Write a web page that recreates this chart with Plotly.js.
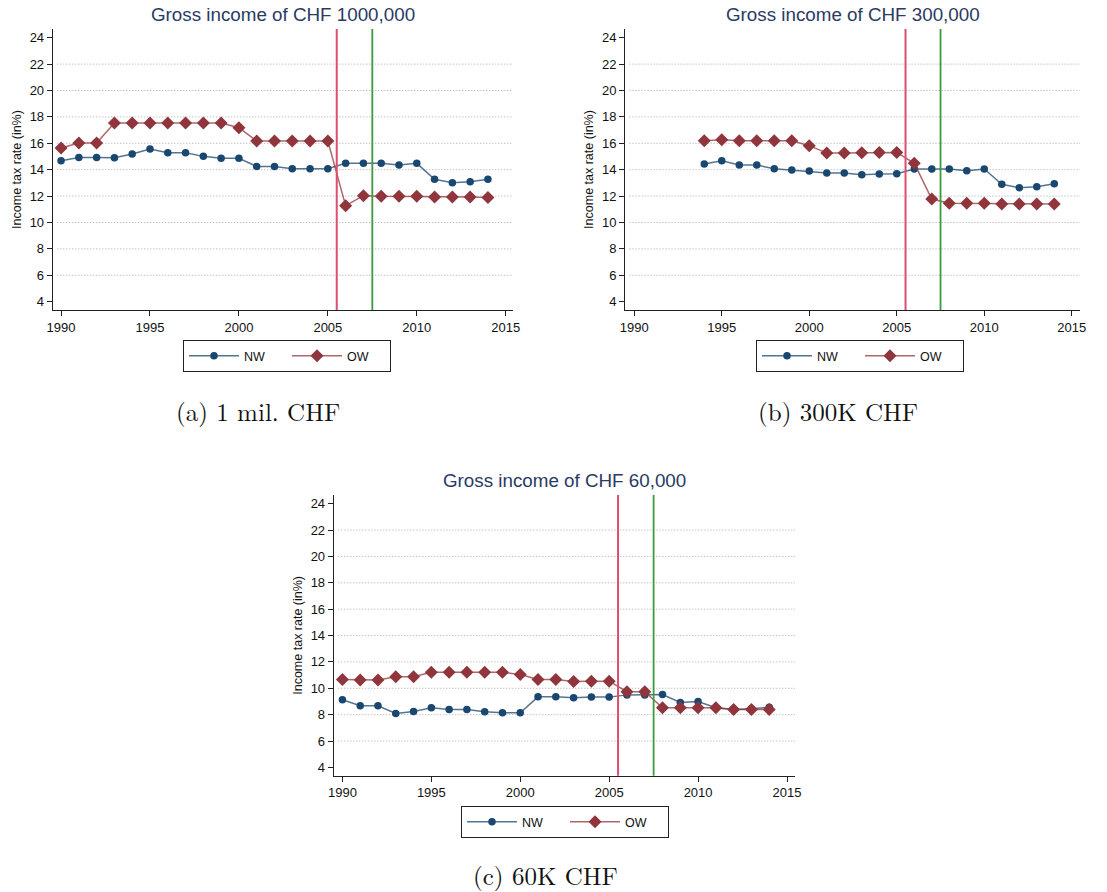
<!DOCTYPE html>
<html>
<head>
<meta charset="utf-8">
<script src="https://cdn.plot.ly/plotly-3.0.1.min.js"></script>
<style>html,body{margin:0;padding:0;background:#fff;}#chart{width:1107px;height:892px;}</style>
</head>
<body>
<div id="chart"></div>
<script>
// ---- Data ----
const yearsA = [1990,1991,1992,1993,1994,1995,1996,1997,1998,1999,2000,2001,2002,2003,2004,2005,2006,2007,2008,2009,2010,2011,2012,2013,2014];
const nwA = [14.68,14.93,14.93,14.91,15.19,15.57,15.29,15.29,15.01,14.86,14.86,14.25,14.25,14.08,14.08,14.08,14.48,14.48,14.48,14.35,14.48,13.27,13.02,13.09,13.27];
const owA = [15.64,16.02,16.02,17.54,17.54,17.54,17.54,17.54,17.54,17.54,17.18,16.17,16.17,16.17,16.17,16.17,11.27,12.03,11.98,11.98,11.98,11.93,11.93,11.93,11.90];

const yearsB = [1994,1995,1996,1997,1998,1999,2000,2001,2002,2003,2004,2005,2006,2007,2008,2009,2010,2011,2012,2013,2014];
const nwB = [14.43,14.68,14.35,14.35,14.08,13.97,13.90,13.75,13.75,13.62,13.67,13.70,14.05,14.05,14.05,13.92,14.05,12.89,12.64,12.71,12.94];
const owB = [16.20,16.27,16.20,16.20,16.20,16.20,15.82,15.26,15.26,15.29,15.31,15.31,14.48,11.78,11.45,11.45,11.45,11.40,11.40,11.40,11.40];

const yearsC = [1990,1991,1992,1993,1994,1995,1996,1997,1998,1999,2000,2001,2002,2003,2004,2005,2006,2007,2008,2009,2010,2011,2012,2013,2014];
const nwC = [9.13,8.67,8.67,8.09,8.24,8.52,8.39,8.39,8.22,8.14,8.14,9.35,9.35,9.28,9.33,9.33,9.50,9.50,9.53,8.93,9.00,8.52,8.39,8.44,8.57];
const owC = [10.67,10.62,10.62,10.87,10.87,11.22,11.22,11.22,11.22,11.22,11.05,10.67,10.67,10.52,10.54,10.54,9.74,9.74,8.52,8.52,8.52,8.52,8.39,8.39,8.39];

const seriesNames = ["NW", "OW"];
const panelTitles = ["Gross income of CHF 1000,000", "Gross income of CHF 300,000", "Gross income of CHF 60,000"];
const captions = ["(a) 1 mil. CHF", "(b) 300K CHF", "(c) 60K CHF"];
const yAxisTitle = "Income tax rate (in%)";
const xTicks = [1990,1995,2000,2005,2010,2015];
const yTicks = [4,6,8,10,12,14,16,18,20,22,24];
const gridValues = [6,8,10,12,14,16,18,20,22];
const vlineYears = [2005.5, 2007.5];

// ---- Styles ----
const NAVY = "#1a476f", MAROON = "#90353b";
const FONT = "Liberation Sans, Arial, Helvetica, sans-serif";
const TITLE_COLOR = "#2a3a63";

const panels = [
  {years: yearsA, nw: nwA, ow: owA, xa: "x", ya: "y", leg: "legend", dom: [52.7, 513, 29, 310], xr:[1989.53, 2015.41]},
  {years: yearsB, nw: nwB, ow: owB, xa: "x2", ya: "y2", leg: "legend2", dom: [625, 1080, 29, 310], xr:[1989.47, 2015.47]},
  {years: yearsC, nw: nwC, ow: owC, xa: "x3", ya: "y3", leg: "legend3", dom: [333.7, 795, 495, 775.7], xr:[1989.51, 2015.45]}
];
const W = 1107, H = 892;

const traces = [];
const layout = {
  width: W, height: H, margin: {l:0, r:0, t:0, b:0},
  paper_bgcolor: "#fff", plot_bgcolor: "#fff",
  font: {family: FONT, color: "#222", size: 12.5},
  showlegend: true, shapes: [], annotations: []
};

const legendPos = [[287, 340], [860, 340], [565, 806]];
const captionX = [258, 838, 545];
const captionY = [410, 410, 874];

panels.forEach((p, i) => {
  const sfx = i === 0 ? "" : String(i + 1);
  traces.push({
    x: p.years, y: p.nw, type: "scatter", mode: "lines+markers", name: seriesNames[0],
    xaxis: p.xa, yaxis: p.ya, legend: p.leg,
    line: {color: "rgba(26,71,111,0.75)", width: 1.5},
    marker: {symbol: "circle", size: 7.5, color: NAVY}
  });
  traces.push({
    x: p.years, y: p.ow, type: "scatter", mode: "lines+markers", name: seriesNames[1],
    xaxis: p.xa, yaxis: p.ya, legend: p.leg,
    line: {color: "rgba(144,53,59,0.75)", width: 1.5},
    marker: {symbol: "diamond", size: 10, color: MAROON}
  });
  const [l, r, t, b] = p.dom;
  layout["xaxis" + sfx] = {
    domain: [l / W, r / W], anchor: "y" + sfx, range: p.xr,
    tickvals: xTicks, ticks: "outside", ticklen: 5, tickcolor: "#222", tickwidth: 1,
    showline: true, linecolor: "#222", linewidth: 1, showgrid: false, zeroline: false,
    tickfont: {size: 13, family: FONT, color: "#111"}, fixedrange: true
  };
  layout["yaxis" + sfx] = {
    domain: [1 - b / H, 1 - t / H], anchor: "x" + sfx, range: [3.37, 24.66],
    tickvals: yTicks, ticks: "outside", ticklen: 5, tickcolor: "#222", tickwidth: 1,
    showline: true, linecolor: "#222", linewidth: 1, showgrid: false, zeroline: false,
    tickfont: {size: 13, family: FONT, color: "#111"},
    title: {text: yAxisTitle, font: {size: 12.5, family: FONT, color: "#111"}, standoff: 5},
    fixedrange: true
  };
  gridValues.forEach(g => {
    layout.shapes.push({type: "line", xref: p.xa + " domain", yref: p.ya, x0: 0.01, x1: 1, y0: g, y1: g,
      line: {color: "#a8a8a8", width: 1, dash: "1px,2px"}, layer: "below"});
  });
  layout.shapes.push({type: "line", xref: p.xa, yref: p.ya + " domain", x0: vlineYears[0], x1: vlineYears[0], y0: 0, y1: 1,
    line: {color: "#dc4d6e", width: 2}});
  layout.shapes.push({type: "line", xref: p.xa, yref: p.ya + " domain", x0: vlineYears[1], x1: vlineYears[1], y0: 0, y1: 1,
    line: {color: "#3d9a3d", width: 1.8}});
  layout.annotations.push({text: panelTitles[i], xref: "paper", yref: "paper",
    x: ((l + r) / 2) / W, y: 1 - (t - 14) / H, xanchor: "center", yanchor: "middle", showarrow: false,
    font: {size: 18.8, family: FONT, color: TITLE_COLOR}});
  layout.annotations.push({text: captions[i], xref: "paper", yref: "paper",
    x: captionX[i] / W, y: 1 - captionY[i] / H, xanchor: "center", yanchor: "middle", showarrow: false,
    font: {size: 25, family: "Latin Modern Roman, CMU Serif, DejaVu Serif, serif", color: "#111"}});
  layout[p.leg] = {
    orientation: "h", x: legendPos[i][0] / W, y: 1 - legendPos[i][1] / H, xanchor: "center", yanchor: "top",
    bordercolor: "#222", borderwidth: 1, bgcolor: "#fff", itemwidth: 50, entrywidth: 38,
    font: {size: 12.5, family: FONT, color: "#111"}, itemclick: false, itemdoubleclick: false
  };
});

Plotly.newPlot("chart", traces, layout, {displayModeBar: false, staticPlot: true});
</script>
</body>
</html>
